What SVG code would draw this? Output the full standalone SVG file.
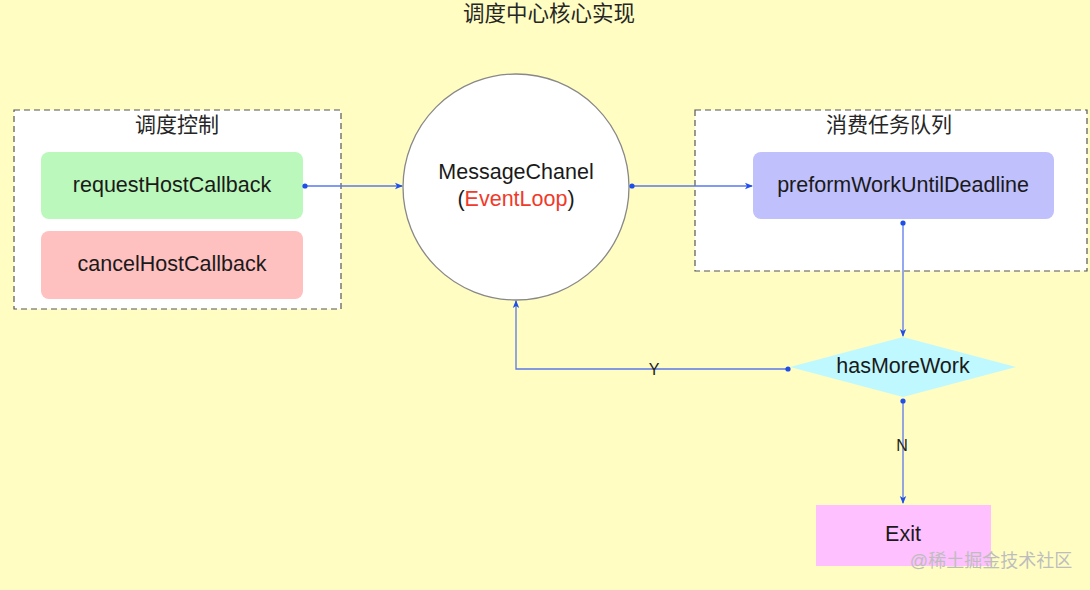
<svg xmlns="http://www.w3.org/2000/svg" width="1090" height="590" viewBox="0 0 1090 590">
<style>
text{font-family:"Liberation Sans","Noto Sans CJK SC",Arial,sans-serif;fill:#1a1a1a;}
.t{font-size:21.5px;text-anchor:middle;}
.cn{font-size:21px;text-anchor:middle;fill:#262626;}
.grp{fill:#ffffff;stroke:#555;stroke-width:1.2;stroke-dasharray:6 4;}
.edge{fill:none;stroke:#5a78ec;stroke-width:1.3;}
.dot{fill:#1f4fe8;}
.lbl{font-size:16px;text-anchor:middle;fill:#222;}
</style>
<defs>
<marker id="arr" viewBox="0 0 8 8" refX="7" refY="4" markerWidth="8" markerHeight="8" markerUnits="userSpaceOnUse" orient="auto">
<path d="M0,0.8 L8,4 L0,7.2 L2,4 Z" fill="#1f4fe8"/>
</marker>
</defs>
<rect x="0" y="0" width="1090" height="590" fill="#fffdc2"/>
<text x="549" y="21" class="cn" style="font-size:21.5px">调度中心核心实现</text>

<g id="group-control">
<rect class="grp" x="14" y="110" width="327" height="199"/>
<text x="177" y="132" class="cn">调度控制</text>
</g>
<g id="node-request">
<rect x="41" y="152" width="262" height="67" rx="8" fill="#bbf8bb"/>
<text x="172" y="192" class="t">requestHostCallback</text>
</g>
<g id="node-cancel">
<rect x="41" y="231" width="262" height="68" rx="8" fill="#ffc0c0"/>
<text x="172" y="271" class="t">cancelHostCallback</text>
</g>

<g id="group-consume">
<rect class="grp" x="695" y="110" width="392" height="161"/>
<text x="889" y="132" class="cn">消费任务队列</text>
</g>
<g id="node-preform">
<rect x="753" y="152" width="301" height="67" rx="8" fill="#c0c0fc"/>
<text x="903" y="192" class="t">preformWorkUntilDeadline</text>
</g>

<g id="node-messagechanel">
<circle cx="516" cy="187" r="113" fill="#ffffff" stroke="#888" stroke-width="1.3"/>
<text x="516" y="179" class="t">MessageChanel</text>
<text x="516" y="206" class="t">(<tspan fill="#f03a2a">EventLoop</tspan>)</text>
</g>

<g id="node-hasmorework">
<polygon points="790,367 903,337 1016,367 903,397" fill="#bff9ff"/>
<text x="903" y="373" class="t">hasMoreWork</text>
</g>

<g id="node-exit">
<rect x="816" y="505" width="175" height="61" fill="#ffc0ff"/>
<text x="903" y="541" class="t">Exit</text>
</g>

<g id="connectors">
<path class="edge" d="M305,186 H402" marker-end="url(#arr)"/>
<circle class="dot" cx="305" cy="186" r="2.6"/>
<path class="edge" d="M632,186 H752" marker-end="url(#arr)"/>
<circle class="dot" cx="632" cy="186" r="2.6"/>
<path class="edge" d="M903,223 V336" marker-end="url(#arr)"/>
<circle class="dot" cx="903" cy="223" r="2.6"/>
<path class="edge" d="M788,369 H516 V301" marker-end="url(#arr)"/>
<circle class="dot" cx="788" cy="369" r="2.6"/>
<text x="654" y="375" class="lbl">Y</text>
<path class="edge" d="M903,401 V503" marker-end="url(#arr)"/>
<circle class="dot" cx="903" cy="401" r="2.6"/>
<text x="902" y="451" class="lbl">N</text>
</g>

<text x="991" y="567" style="font-size:18px;text-anchor:middle;fill:#bdbdbd">@稀土掘金技术社区</text>
</svg>
